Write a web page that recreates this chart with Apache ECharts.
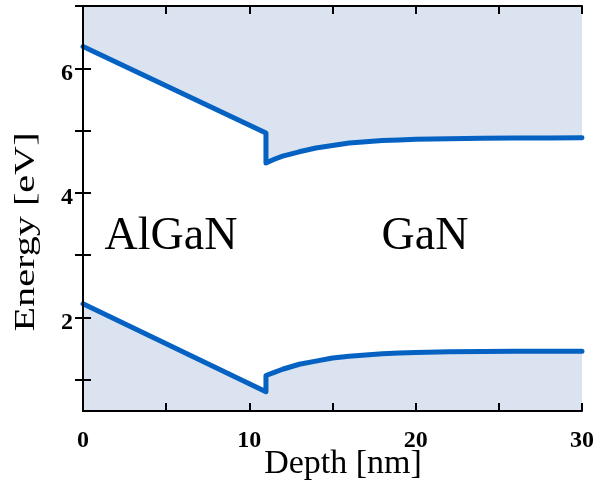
<!DOCTYPE html>
<html>
<head>
<meta charset="utf-8">
<script src="https://cdn.jsdelivr.net/npm/echarts@6/dist/echarts.min.js"></script>
<style>
html,body{margin:0;padding:0;background:#fff;}
#chart{width:613px;height:489px;}
</style>
</head>
<body>
<div id="chart"></div>
<script>
// Depth [nm] positions and band energies [eV]
const cbDepth  = [0, 11, 11, 11.5, 12, 13, 14, 15, 16, 17, 18, 19, 20, 22, 24, 26, 28, 30];
const cbEnergy = [6.35, 4.96, 4.48, 4.54, 4.59, 4.66, 4.72, 4.76, 4.80, 4.82, 4.84, 4.85, 4.86, 4.87, 4.877, 4.881, 4.883, 4.884];
const vbDepth  = [0, 11, 11, 11.5, 12, 13, 14, 15, 16, 17, 18, 19, 20, 22, 24, 26, 28, 30];
const vbEnergy = [2.22, 0.81, 1.07, 1.12, 1.17, 1.25, 1.30, 1.35, 1.38, 1.40, 1.42, 1.43, 1.44, 1.45, 1.455, 1.458, 1.46, 1.46];
const xTicks = [0, 5, 10, 15, 20, 25, 30];
const xLabels = [0, 10, 20, 30];
const yTicks = [1, 2, 3, 4, 5, 6, 7];
const yLabels = [2, 4, 6];
const regionLabels = ['AlGaN', 'GaN'];
const xTitle = 'Depth [nm]';
const yTitle = 'Energy [eV]';

const serif = '"Liberation Serif", "Times New Roman", serif';
const lineColor = '#0562c3';
const fillColor = '#dae3ef';

const cb = cbDepth.map((d, i) => [d, cbEnergy[i]]);
const vb = vbDepth.map((d, i) => [d, vbEnergy[i]]);

const axisLine = { show: true, lineStyle: { color: '#000', width: 2 } };
const xTick = { show: true, inside: true, length: 8, lineStyle: { color: '#000', width: 2 }, customValues: xTicks };
const yTick = { show: true, inside: true, length: 8, lineStyle: { color: '#000', width: 2 }, customValues: yTicks };

const chart = echarts.init(document.getElementById('chart'), null, { renderer: 'canvas' });
chart.setOption({
  backgroundColor: '#fff',
  animation: false,
  grid: { left: 83, right: 31, top: 6, bottom: 78, containLabel: false },
  xAxis: [
    { type: 'value', min: 0, max: 30, interval: 5, position: 'bottom', z: 10,
      axisLine: axisLine, axisTick: xTick, splitLine: { show: false },
      axisLabel: { show: true, customValues: xLabels, margin: 18, color: '#000', fontFamily: serif, fontWeight: 'bold', fontSize: 24 } },
    { type: 'value', min: 0, max: 30, interval: 5, position: 'top', z: 10,
      axisLine: axisLine, axisTick: xTick, splitLine: { show: false }, axisLabel: { show: false } }
  ],
  yAxis: [
    { type: 'value', min: 0.5, max: 7, position: 'left', z: 10,
      axisLine: axisLine, axisTick: yTick, splitLine: { show: false },
      axisLabel: { show: true, customValues: yLabels, margin: 10, color: '#000', fontFamily: serif, fontWeight: 'bold', fontSize: 24, verticalAlign: 'top', lineHeight: 10 } },
    { type: 'value', min: 0.5, max: 7, position: 'right', z: 10,
      axisLine: axisLine, axisTick: yTick, splitLine: { show: false }, axisLabel: { show: false } }
  ],
  series: [
    { type: 'line', data: cb, xAxisIndex: 0, yAxisIndex: 0, showSymbol: false, symbol: 'none', smooth: false,
      lineStyle: { color: lineColor, width: 5, join: 'round', cap: 'round' },
      areaStyle: { color: fillColor, opacity: 1, origin: 'end' }, z: 2 },
    { type: 'line', data: vb, xAxisIndex: 0, yAxisIndex: 0, showSymbol: false, symbol: 'none', smooth: false,
      lineStyle: { color: lineColor, width: 5, join: 'round', cap: 'round' },
      areaStyle: { color: fillColor, opacity: 1, origin: 'start' }, z: 2 }
  ],
  graphic: [
    { type: 'text', x: 171, y: 237, z: 10, style: { text: regionLabels[0], fontFamily: serif, fontSize: 46, fill: '#000', align: 'center', verticalAlign: 'middle' } },
    { type: 'text', x: 425, y: 237, z: 10, style: { text: regionLabels[1], fontFamily: serif, fontSize: 46, fill: '#000', align: 'center', verticalAlign: 'middle' } },
    { type: 'text', x: 343, y: 464, z: 10, style: { text: xTitle, fontFamily: serif, fontSize: 34, fill: '#000', align: 'center', verticalAlign: 'middle' } },
    { type: 'text', x: 26, y: 232, rotation: Math.PI / 2, scaleX: 1.34, z: 10, style: { text: yTitle, fontFamily: serif, fontSize: 30, fill: '#000', align: 'center', verticalAlign: 'middle' } }
  ]
});
</script>
</body>
</html>
